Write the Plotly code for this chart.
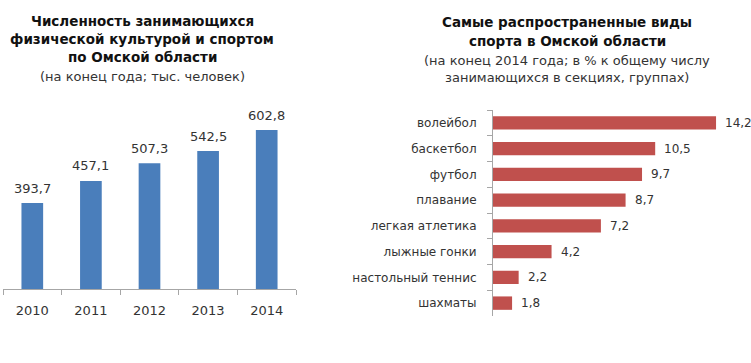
import plotly.graph_objects as go

# Left chart data
years = ["2010", "2011", "2012", "2013", "2014"]
members = [393.7, 457.1, 507.3, 542.5, 602.8]
member_labels = ["393,7", "457,1", "507,3", "542,5", "602,8"]

# Right chart data
sports = ["волейбол", "баскетбол", "футбол", "плавание", "легкая атлетика",
          "лыжные гонки", "настольный теннис", "шахматы"]
shares = [14.2, 10.5, 9.7, 8.7, 7.2, 4.2, 2.2, 1.8]
share_labels = ["14,2", "10,5", "9,7", "8,7", "7,2", "4,2", "2,2", "1,8"]

W, H = 751, 363
FONT = "DejaVu Sans"
BLUE = "#4A7EBB"
RED = "#C0504D"
AXIS = "#A6A6A6"
TXT = "#333333"


def px(x):
    return x / W


def py(y):
    return 1 - y / H


fig = go.Figure()

fig.add_trace(go.Bar(x=years, y=members, marker=dict(color=BLUE, line=dict(width=0)),
                     xaxis="x", yaxis="y", showlegend=False, hoverinfo="skip"))
fig.add_trace(go.Bar(x=shares, y=sports, orientation="h",
                     marker=dict(color=RED, line=dict(width=0)), width=0.52,
                     xaxis="x2", yaxis="y2", showlegend=False, hoverinfo="skip"))

annotations = []
for i, (v, lab) in enumerate(zip(members, member_labels)):
    annotations.append(dict(x=i, y=v, xref="x", yref="y", text=lab, showarrow=False,
                            yanchor="middle", xanchor="center", yshift=15,
                            font=dict(family=FONT, size=13, color=TXT)))
for i, (v, lab) in enumerate(zip(shares, share_labels)):
    annotations.append(dict(x=v, y=i, xref="x2", yref="y2", text=lab, showarrow=False,
                            yanchor="middle", xanchor="left", xshift=7,
                            font=dict(family=FONT, size=12, color=TXT)))

left_title = [("<b>Численность занимающихся</b>", 21),
              ("<b>физической культурой и спортом</b>", 39),
              ("<b>по Омской области</b>", 57),
              ("(на конец года; тыс. человек)", 76)]
right_title = [("<b>Самые распространенные виды</b>", 22),
               ("<b>спорта в Омской области</b>", 41),
               ("(на конец 2014 года; в % к общему числу", 60),
               ("занимающихся в секциях, группах)", 78)]
for cx, lines in ((142, left_title), (567, right_title)):
    for txt, yy in lines:
        bold = "<b>" in txt
        annotations.append(dict(x=px(cx), y=py(yy), xref="paper", yref="paper", text=txt,
                                showarrow=False, xanchor="center", yanchor="middle",
                                font=dict(family=FONT, size=13.5 if bold else 13,
                                          color="#111111" if bold else TXT)))

fig.update_layout(
    width=W, height=H,
    margin=dict(l=0, r=0, t=0, b=0, pad=0),
    paper_bgcolor="white", plot_bgcolor="white",
    bargap=0.63,
    annotations=annotations,
    xaxis=dict(domain=[px(3), px(296)], type="category", range=[-0.5, 4.5],
               showline=True, linecolor=AXIS, automargin=False,
               linewidth=1, ticks="outside", tickson="boundaries", ticklen=5,
               tickcolor=AXIS, showgrid=False, zeroline=False, fixedrange=True,
               ticklabelstandoff=9, tickangle=0,
               tickfont=dict(family=FONT, size=13, color=TXT)),
    yaxis=dict(domain=[py(289), py(100)], range=[147.4, 688.8], visible=False,
               automargin=False, showgrid=False, zeroline=False, fixedrange=True),
    xaxis2=dict(domain=[px(493), px(745)], range=[0.64, 15.96], visible=False,
                automargin=False, showgrid=False, zeroline=False, anchor="y2",
                fixedrange=True),
    yaxis2=dict(domain=[py(316), py(110)], type="category", range=[7.5, -0.5],
                anchor="x2", showline=True, linecolor=AXIS, linewidth=1,
                automargin=False,
                ticks="outside", tickson="boundaries", ticklen=5, tickcolor=AXIS,
                showgrid=False, zeroline=False, fixedrange=True,
                ticklabelstandoff=13,
                tickfont=dict(family=FONT, size=12, color=TXT)),
)

fig.write_html("out.html", config={"displayModeBar": False, "staticPlot": True},
               post_script="document.body.style.margin='0';")
